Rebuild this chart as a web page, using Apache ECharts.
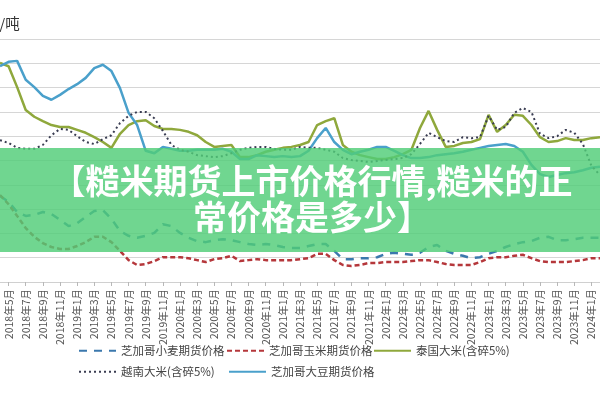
<!DOCTYPE html>
<html><head><meta charset="utf-8">
<script src="https://cdn.jsdelivr.net/npm/echarts@6/dist/echarts.min.js"></script>
<style>html,body{margin:0;padding:0;background:#fff}#c{width:600px;height:400px}</style>
</head><body><div id="c"></div>
<script>
const months = [
 '2018年4月','2018年5月','2018年6月','2018年7月','2018年8月','2018年9月','2018年10月','2018年11月','2018年12月',
 '2019年1月','2019年2月','2019年3月','2019年4月','2019年5月','2019年6月','2019年7月','2019年8月','2019年9月','2019年10月','2019年11月','2019年12月',
 '2020年1月','2020年2月','2020年3月','2020年4月','2020年5月','2020年6月','2020年7月','2020年8月','2020年9月','2020年10月','2020年11月','2020年12月',
 '2021年1月','2021年2月','2021年3月','2021年4月','2021年5月','2021年6月','2021年7月','2021年8月','2021年9月','2021年10月','2021年11月','2021年12月',
 '2022年1月','2022年2月','2022年3月','2022年4月','2022年5月','2022年6月','2022年7月','2022年8月','2022年9月','2022年10月','2022年11月','2022年12月',
 '2023年1月','2023年2月','2023年3月','2023年4月','2023年5月','2023年6月','2023年7月','2023年8月','2023年9月','2023年10月','2023年11月','2023年12月',
 '2024年1月','2024年2月'
];
const wheat = [1770,1650,1440,1360,1380,1440,1400,1280,1150,1210,1340,1460,1480,1300,1050,950,910,950,1010,1190,1150,1010,910,840,820,860,880,860,820,780,760,780,760,720,700,700,740,780,780,640,470,470,490,490,510,580,600,580,560,600,720,760,640,580,540,490,510,580,640,720,780,820,840,910,930,860,860,880,910,910,910];
const corn = [1790,1600,1360,1110,930,800,720,680,680,740,820,930,930,820,640,450,350,370,430,510,510,510,490,450,410,470,490,540,430,450,470,450,450,450,450,470,490,580,580,450,350,330,350,390,390,410,410,410,430,450,450,410,370,350,350,350,410,490,510,510,540,560,490,430,410,410,410,430,450,490,490];
const thaiRice = [4510,4440,4010,3540,3400,3310,3230,3190,3190,3130,3070,2980,2880,2760,3050,3230,3310,3330,3210,3150,3150,3130,3090,3020,2880,2780,2800,2820,2570,2570,2610,2680,2720,2760,2780,2820,2880,3230,3310,3370,2820,2680,2610,2570,2530,2530,2570,2630,2720,3170,3520,3130,2780,2800,2860,2880,2940,3440,3090,3230,3440,3420,3230,2980,2880,2900,2960,2920,2920,2960,2980];
const vietRice = [2920,2860,2760,2740,2740,2820,3020,3150,3130,3000,2880,2840,2940,3020,3270,3420,3500,3500,3370,3110,2820,2720,2680,2610,2590,2570,2590,2650,2720,2760,2780,2780,2740,2720,2720,2780,2760,2760,2720,2680,2550,2510,2490,2470,2490,2510,2530,2550,2630,2840,3070,2980,2900,2880,2980,2960,2980,3420,3130,3190,3480,3580,3500,3050,2960,3000,3130,3070,2840,2390,2200];
const soybean = [4440,4530,4550,4160,4010,3830,3750,3850,3970,4070,4200,4400,4470,4340,3990,3480,3230,2700,2650,2780,2740,2700,2700,2720,2720,2720,2740,2680,2530,2530,2610,2590,2570,2590,2570,2590,2700,2960,3170,2880,2720,2630,2680,2720,2780,2780,2700,2610,2550,2550,2570,2610,2630,2650,2680,2720,2760,2800,2820,2840,2800,2680,2410,2220,2160,2200,2240,2260,2300,2350,2370];
const seriesNames = ['芝加哥小麦期货价格','芝加哥玉米期货价格','泰国大米(含碎5%)','越南大米(含碎5%)','芝加哥大豆期货价格'];
const unitLabel = '元/吨';
const bannerLines = ['【糙米期货上市价格行情,糙米的正','常价格是多少】'];

const FONT = '"Noto Sans CJK SC", sans-serif';
const chart = echarts.init(document.getElementById('c'), null, {renderer:'canvas'});
const showOdd = (i) => i % 2 === 1;
const legendBase = (name, left, top) => ({
  data:[name], left:left, top:top, padding:0, itemWidth:37, itemHeight:10,
  itemStyle:{opacity:0, borderWidth:0},
  textStyle:{fontSize:11.5, color:'#444', fontFamily:FONT}, selectedMode:false
});
chart.setOption({
  animation:false,
  textStyle:{fontFamily:FONT},
  title:{text:unitLabel, left:-15, top:16, padding:0, textStyle:{fontSize:14.5, fontWeight:'normal', color:'#333', fontFamily:FONT}},
  grid:{left:-5.72, right:-4.7, top:39, bottom:118, containLabel:false},
  legend:[
    legendBase(seriesNames[0], 78, 345),
    legendBase(seriesNames[1], 226, 345),
    legendBase(seriesNames[2], 373, 345),
    legendBase(seriesNames[3], 78, 366),
    legendBase(seriesNames[4], 228, 366)
  ],
  xAxis:{type:'category', data:months, boundaryGap:false,
    axisLine:{show:true, lineStyle:{color:'#d0d0d0', width:1}},
    axisTick:{show:true, interval:showOdd, length:4, lineStyle:{color:'#b8b8b8'}},
    axisLabel:{interval:showOdd, rotate:90, fontSize:10.5, color:'#555', margin:7, fontFamily:FONT},
    splitLine:{show:false}},
  yAxis:{type:'value', min:0, max:5000, interval:500,
    axisLabel:{show:false}, axisLine:{show:false}, axisTick:{show:false},
    splitLine:{lineStyle:{color:'#d6d6d6', width:1}}},
  series:[
    {name:seriesNames[0], type:'line', data:wheat, symbol:'none', z:3,
      itemStyle:{color:'#3b78ad'}, lineStyle:{color:'#3b78ad', width:2.5, type:[8,7]}},
    {name:seriesNames[1], type:'line', data:corn, symbol:'none', z:3,
      itemStyle:{color:'#b5373b'}, lineStyle:{color:'#b5373b', width:2.5, type:[5,3]}},
    {name:seriesNames[2], type:'line', data:thaiRice, symbol:'none', z:4,
      itemStyle:{color:'#8fa83c'}, lineStyle:{color:'#8fa83c', width:2.5}},
    {name:seriesNames[3], type:'line', data:vietRice, symbol:'none', z:5,
      itemStyle:{color:'#3a3d52'}, lineStyle:{color:'#3a3d52', width:2, type:[2,3]}},
    {name:seriesNames[4], type:'line', data:soybean, symbol:'none', z:4,
      itemStyle:{color:'#4aa0cb'}, lineStyle:{color:'#4aa0cb', width:2.5}}
  ],
  graphic:[
    {type:'rect', z:100, shape:{x:0, y:148, width:600, height:104}, style:{fill:'rgba(80,205,120,0.82)'}},
    {type:'text', z:101, x:312, y:181, style:{text:bannerLines[0], fill:'#fff', font:'bold 34px "Noto Sans CJK SC"', textAlign:'center', verticalAlign:'middle', textVerticalAlign:'middle'}},
    {type:'text', z:101, x:312, y:217, style:{text:bannerLines[1], fill:'#fff', font:'bold 34px "Noto Sans CJK SC"', textAlign:'center', verticalAlign:'middle', textVerticalAlign:'middle'}}
  ]
});
</script></body></html>
